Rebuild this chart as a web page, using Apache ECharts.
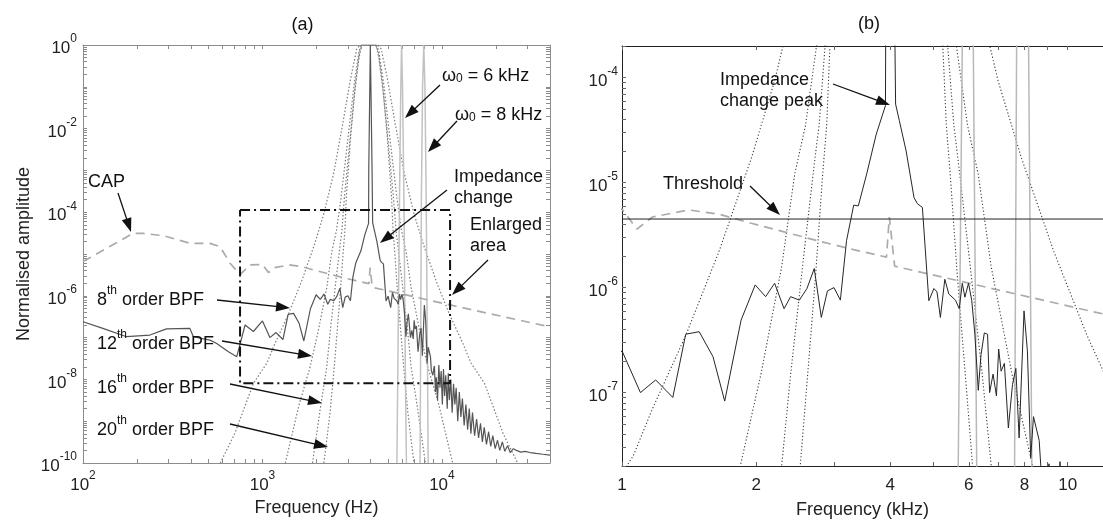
<!DOCTYPE html>
<html><head><meta charset="utf-8">
<script src="https://cdn.jsdelivr.net/npm/echarts@6/dist/echarts.min.js"></script>
<style>html,body{margin:0;padding:0;background:#fff}#c{width:1103px;height:525px}</style>
</head><body><div id="c"></div>
<script>
// ---------- DATA (frequency in Hz, normalised amplitude) ----------
const sigFreq = [100,129,175,236,292,394,412,510,556,646,719,800,890,1000,1100,1190,1300,1390,1490,1600,1700,1850,1990,2100,2200,2310,2390,2500,2600,2700,2800,2890,2990,3090,3190,3310,3390,3540,3720,3900,3910,3990,4080,4110,4190,4340,4520,4600,4720,4880,5010,5090,5180,5300,5410,5600,5710,5800,5880,5990,6090,6190,6300,6390,6500,6610,6680,6800,6920,7000,7090,7210,7360,7520,7650,7780,7980,8120,8260,8380,8630,8730,
  8900,9000,9080,9200,9300,9450,9610,9750,9900,10050,10200,10350,10500,10700,10850,11000,11200,11400,11600,11800,12000,12250,12500,12750,13000,13300,13600,13900,14200,14500,14800,15200,15600,16000,16400,16800,17200,17700,18200,18700,19200,19800,20400,21000,21700,22400,23200,24000,25000,26000,27500,29000,31000,33500,36500,40000];
const sigAmp = [2.4e-7,1.66e-7,1.05e-7,1.15e-7,1.62e-7,1.66e-7,1.05e-7,8.7e-8,7.2e-8,4.6e-8,3.5e-8,2.0e-7,1.4e-7,2.5e-7,1.0e-7,1.32e-7,9.0e-8,3.6e-7,3.8e-7,2.2e-7,8.3e-8,4.9e-7,1.06e-6,8.2e-7,1.1e-6,6.3e-7,8.2e-7,7.6e-7,9.8e-7,1.52e-6,5.2e-7,9.3e-7,1.0e-6,7.6e-7,2.8e-6,6.1e-6,6.0e-6,1.21e-5,2.9e-5,5.4e-5,1e-3,1.0,1e-3,5.6e-5,3.9e-5,2.0e-5,7.2e-6,6.3e-6,5.8e-6,7.5e-7,9.8e-7,9.1e-7,5.2e-7,1.2e-6,8.7e-7,7.6e-7,6.3e-7,1.1e-6,8.1e-7,1.1e-6,7.6e-7,3.6e-7,1.05e-7,2.3e-7,3.7e-7,3.6e-7,1.0e-7,1.5e-7,9.3e-8,2.6e-7,1.6e-7,1.9e-7,4.6e-8,1.2e-7,1.7e-7,3.7e-8,6.0e-7,2.5e-7,2.4e-8,5.9e-8,3.5e-8,1.6e-8,
  1.26e-8,1.78e-8,2.1e-8,5.0e-9,1.12e-8,3.2e-9,2.2e-8,6.3e-9,1.58e-8,2.5e-9,1.78e-8,4.0e-9,1.26e-8,2.0e-9,1.41e-8,3.2e-9,1.0e-8,1.6e-9,7.9e-9,2.5e-9,6.3e-9,1.0e-9,5.0e-9,1.26e-9,3.5e-9,7.9e-10,2.5e-9,6.3e-10,2.0e-9,5.0e-10,1.6e-9,4.5e-10,1.12e-9,4.0e-10,8.9e-10,3.2e-10,7.1e-10,2.8e-10,5.6e-10,2.5e-10,4.5e-10,2.2e-10,3.5e-10,2.0e-10,3.2e-10,1.9e-10,2.6e-10,1.78e-10,2.2e-10,2.0e-10,1.82e-10,1.9e-10,1.78e-10,1.7e-10,1.62e-10,1.55e-10];

const capFreq = [100,190,217,280,394,510,580,660,750,850,1000,1080,1170,1410,1650,1950,2310,2740,3310,3920,3980,4090,11600,40000];
const capAmp  = [6.6e-6,3.1e-5,3.1e-5,2.75e-5,1.8e-5,1.8e-5,1.5e-5,6.0e-6,3.2e-6,5.5e-6,5.6e-6,3.6e-6,4.7e-6,5.5e-6,5.0e-6,4.1e-6,3.4e-6,2.8e-6,2.3e-6,1.95e-6,4.7e-6,1.6e-6,5.8e-7,1.8e-7];

const bpf8Freq = [582,700,890,1060,1170,1390,1650,1950,2200,2500,2800,3100,3350,3500,4390,4590,4960,5490,6150,6980,7880,9310,11050,13130,14500,17270,21950,26400];
const bpf8Amp  = [1e-10,5e-10,8e-9,2.5e-8,7e-8,3.5e-7,2.2e-6,1.7e-5,9.3e-5,9e-4,1.3e-2,0.16,0.8,1,1,0.8,0.16,1.3e-2,9e-4,9.3e-5,1.7e-5,2.2e-6,3.5e-7,7e-8,2.5e-8,8e-9,5e-10,1e-10];
const bpf12Freq = [1340,1600,1840,2050,2280,2440,2580,2740,3000,3250,3450,3550,4330,4450,4730,5120,5610,5960,6300,6740,7500,8350,9600,11470];
const bpf12Amp  = [1e-10,2.5e-9,1.95e-8,1.5e-7,1.55e-6,1.2e-5,3.5e-5,2.2e-4,6.3e-3,0.126,0.7,1,1,0.7,0.126,6.3e-3,2.2e-4,3.5e-5,1.2e-5,1.55e-6,1.5e-7,1.95e-8,2.5e-9,1e-10];
const bpf16Freq = [1900,2100,2280,2390,2560,2700,2770,2860,3050,3250,3450,3580,4290,4450,4730,5040,5370,5550,5690,6000,6430,6740,7320,8090];
const bpf16Amp  = [1e-10,2e-9,1.95e-8,1.5e-7,2.1e-6,1.5e-5,3.6e-5,2.2e-4,4e-3,6.3e-2,0.5,1,1,0.5,6.3e-2,4e-3,2.2e-4,3.6e-5,1.5e-5,2.1e-6,1.5e-7,1.95e-8,2e-9,1e-10];
const bpf20Freq = [2200,2380,2510,2610,2720,2820,2880,2930,3100,3300,3480,3600,4270,4420,4660,4960,5240,5340,5450,5650,5890,6120,6460,6980];
const bpf20Amp  = [1e-10,1.6e-9,1.95e-8,1.5e-7,1.35e-6,1.2e-5,3.6e-5,2.2e-4,6.3e-3,0.126,0.7,1,1,0.7,0.126,6.3e-3,2.2e-4,3.6e-5,1.2e-5,1.35e-6,1.5e-7,1.95e-8,1.6e-9,1e-10];

const w6Freq = [5610,5680,5800,5900,5960,6030,6140,6250,6340];
const w6Amp  = [1e-10,2e-8,2e-4,0.1,1,0.1,2e-4,2e-8,1e-10];
const w8Freq = [7550,7600,7680,7800,7920,8040,8170,8310,8380];
const w8Amp  = [1e-10,2e-8,2e-4,0.1,1,0.1,2e-4,2e-8,1e-10];

const boxFreq = [750,11100,11100,750,750];
const boxAmp  = [1.13e-4,1.13e-4,8.1e-9,8.1e-9,1.13e-4];

const thrFreq = [1000,12000];
const thrAmp  = [4.5e-6,4.5e-6];

// tick labels
const leftXLabels = [100,1000,10000];
const leftYLabels = [1,1e-2,1e-4,1e-6,1e-8,1e-10];
const rightXLabels = [1,2,4,6,8,10];
const rightYLabels = [1e-4,1e-5,1e-6,1e-7];

// ---------- CHART ----------
const FONT = '"Liberation Sans", Arial, Helvetica, sans-serif';
function logTicks(min, max){
  const out=[];
  for(let e=Math.floor(Math.log10(min)); e<=Math.ceil(Math.log10(max)); e++){
    for(let m=1;m<=9;m++){ const v=+(m*Math.pow(10,e)).toPrecision(6); if(v>=min*0.999 && v<=max*1.001) out.push(v); }
  }
  return out;
}
function pts(fs, as, k){ return fs.map((f,i)=>[f*k, as[i]]); }
const powRich = {
  b:{fontSize:17, fontFamily:FONT, color:'#222', lineHeight:24, verticalAlign:'bottom'},
  s:{fontSize:12, fontFamily:FONT, color:'#222', lineHeight:24, verticalAlign:'top'}
};
function powFmt(v){ return '{b|10}{s|' + Math.round(Math.log10(v)) + '}'; }

const chart = echarts.init(document.getElementById('c'), null, {renderer:'canvas'});

const LC = '#8c8c8c';
function axisBase(extra){ return Object.assign({type:'log', logBase:10, splitLine:{show:false}, minorTick:{show:false}}, extra); }

const xAxes = [
  axisBase({gridIndex:0, position:'bottom', min:100, max:40000,
    axisLine:{lineStyle:{color:LC, width:1}},
    axisTick:{inside:true, length:4, customValues:logTicks(100,40000), lineStyle:{color:LC}},
    axisLabel:{customValues:leftXLabels, formatter:powFmt, rich:powRich, margin:7},
    name:'Frequency (Hz)', nameLocation:'middle', nameGap:35,
    nameTextStyle:{fontSize:18, fontFamily:FONT, color:'#222'}}),
  axisBase({gridIndex:0, position:'top', min:100, max:40000,
    axisLine:{lineStyle:{color:LC, width:1}},
    axisTick:{inside:true, length:4, customValues:logTicks(100,40000), lineStyle:{color:LC}},
    axisLabel:{show:false}}),
  axisBase({gridIndex:1, position:'bottom', min:1, max:12,
    axisLine:{lineStyle:{color:'#222', width:1}},
    axisTick:{inside:true, length:4, customValues:logTicks(1,10), lineStyle:{color:'#666'}},
    axisLabel:{customValues:rightXLabels, fontSize:17, fontFamily:FONT, color:'#222', margin:11},
    name:'Frequency (kHz)', nameLocation:'middle', nameGap:35,
    nameTextStyle:{fontSize:18, fontFamily:FONT, color:'#222'}}),
  axisBase({gridIndex:1, position:'top', min:1, max:12,
    axisLine:{lineStyle:{color:'#222', width:1}},
    axisTick:{inside:true, length:4, customValues:logTicks(1,10), lineStyle:{color:'#666'}},
    axisLabel:{show:false}})
];
const yAxes = [
  axisBase({gridIndex:0, position:'left', min:1e-10, max:1,
    axisLine:{lineStyle:{color:LC, width:1}},
    axisTick:{inside:true, length:4, customValues:logTicks(1e-10,1), lineStyle:{color:LC}},
    axisLabel:{customValues:leftYLabels, formatter:powFmt, rich:powRich, margin:6},
    name:'Normalised amplitude', nameLocation:'middle', nameGap:50,
    nameTextStyle:{fontSize:18, fontFamily:FONT, color:'#222'}}),
  axisBase({gridIndex:0, position:'right', min:1e-10, max:1,
    axisLine:{lineStyle:{color:LC, width:1}},
    axisTick:{inside:true, length:4, customValues:logTicks(1e-10,1), lineStyle:{color:LC}},
    axisLabel:{show:false}}),
  axisBase({gridIndex:1, position:'left', min:2e-8, max:2e-4,
    axisLine:{lineStyle:{color:'#222', width:1}},
    axisTick:{inside:true, length:4, customValues:logTicks(2e-8,2e-4), lineStyle:{color:'#666'}},
    axisLabel:{customValues:rightYLabels, formatter:powFmt, rich:powRich, margin:4}})
];

function line(name, fs, as, panel, style, z){
  const k = panel===0 ? 1 : 0.001;
  return {type:'line', name, xAxisIndex: panel===0?0:2, yAxisIndex: panel===0?0:2,
    data: pts(fs, as, k), showSymbol:false, symbol:'none', clip:true, z:z||2,
    lineStyle:style, silent:true, animation:false};
}
const bpfL = {color:'#7c7c7c', width:1.2, type:[1.5,2]};
const bpfR = {color:'#3a3a3a', width:1.1, type:[1.2,2.2]};
const wL = {color:'#c2c2c2', width:1.5};
const wR = {color:'#b8b8b8', width:1.5};
const capS = {color:'#ababab', width:1.7, type:[9,6]};

const series = [];
[0,1].forEach(p=>{
  const b = p===0?bpfL:bpfR, w = p===0?wL:wR;
  series.push(line('BPF8', bpf8Freq, bpf8Amp, p, b));
  series.push(line('BPF12', bpf12Freq, bpf12Amp, p, b));
  series.push(line('BPF16', bpf16Freq, bpf16Amp, p, b));
  series.push(line('BPF20', bpf20Freq, bpf20Amp, p, b));
  series.push(line('w6', w6Freq, w6Amp, p, w));
  series.push(line('w8', w8Freq, w8Amp, p, w));
  series.push(line('CAP', capFreq, capAmp, p, capS, 3));
  series.push(line('Signal', sigFreq, sigAmp, p, p===0?{color:'#555', width:1.2}:{color:'#262626', width:1}, 4));
});
series.push(line('Box', boxFreq, boxAmp, 0, {color:'#111', width:2, type:[10,4,2,4]}, 5));
series.push(line('Threshold', thrFreq, thrAmp, 1, {color:'#222', width:1}, 5));

// ---------- annotations ----------
const annR = {
  n:{fontSize:18, fontFamily:FONT, color:'#111', lineHeight:24, verticalAlign:'bottom'},
  s:{fontSize:12, fontFamily:FONT, color:'#111', lineHeight:24, verticalAlign:'top'},
  u:{fontSize:12, fontFamily:FONT, color:'#111', lineHeight:26, verticalAlign:'bottom'}
};
function txt(x, y, text, opts){
  opts = opts||{};
  return {type:'text', x, y, z:100, silent:true,
    style:Object.assign({text, font:'18px '+FONT, fontSize:18, fontFamily:FONT, fill:'#111',
      textAlign:opts.align||'left', align:opts.align||'left',
      textVerticalAlign:'middle', verticalAlign:'middle', lineHeight:opts.lh||22}, opts.rich?{rich:annR}:{})};
}
function arrow(x1,y1,x2,y2){
  const dx=x2-x1, dy=y2-y1, L=Math.hypot(dx,dy), ux=dx/L, uy=dy/L, hl=14, hw=5;
  const bx=x2-ux*hl, by=y2-uy*hl;
  return [
    {type:'line', z:100, silent:true, shape:{x1,y1,x2:bx+ux*2,y2:by+uy*2}, style:{stroke:'#111', lineWidth:1.3}},
    {type:'polygon', z:100, silent:true, shape:{points:[[x2,y2],[bx-uy*hw,by+ux*hw],[bx+uy*hw,by-ux*hw]]}, style:{fill:'#111'}}
  ];
}
const graphic = [
  txt(302.5, 25, '(a)', {align:'center'}),
  txt(869, 24, '(b)', {align:'center'}),
  txt(88, 182, 'CAP'), ...arrow(118,193,131,232),
  txt(442, 72, '{n|ω}{u|0}{n| = 6 kHz}', {rich:true}), ...arrow(440,85,405,118),
  txt(455, 111, '{n|ω}{u|0}{n| = 8 kHz}', {rich:true}), ...arrow(457,121,428,152),
  txt(454, 188, 'Impedance\nchange', {lh:21}), ...arrow(447,190,380,243),
  txt(470, 236, 'Enlarged\narea', {lh:21}), ...arrow(488,260,452,295),
  txt(97, 297, '{n|8}{s|th}{n| order BPF}', {rich:true}), ...arrow(217,300,290,308),
  txt(97, 341, '{n|12}{s|th}{n| order BPF}', {rich:true}), ...arrow(222,341,312,356),
  txt(97, 385, '{n|16}{s|th}{n| order BPF}', {rich:true}), ...arrow(230,384,322,403),
  txt(97, 427, '{n|20}{s|th}{n| order BPF}', {rich:true}), ...arrow(230,424,328,447),
  txt(720, 91, 'Impedance\nchange peak', {lh:21}), ...arrow(833,84,890,105),
  txt(663, 184, 'Threshold'), ...arrow(750,186,780,215)
];

chart.setOption({
  animation:false,
  backgroundColor:'#fff',
  textStyle:{fontFamily:FONT},
  grid:[
    {left:83, top:45, width:467, height:418, containLabel:false},
    {left:622, top:46, width:488, height:420, containLabel:false}
  ],
  xAxis:xAxes, yAxis:yAxes, series, graphic
});
</script></body></html>
